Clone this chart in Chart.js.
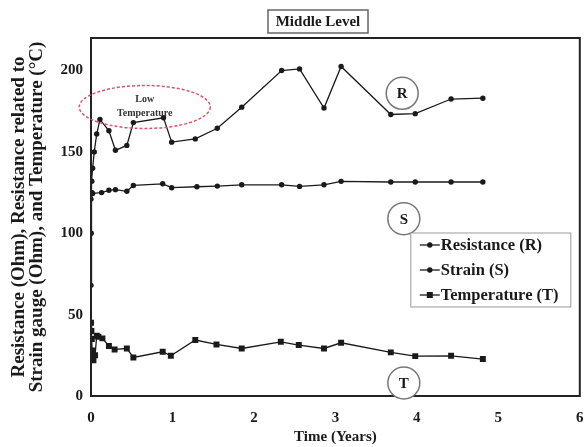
<!DOCTYPE html>
<html>
<head>
<meta charset="utf-8">
<script src="https://cdn.jsdelivr.net/npm/chart.js@4/dist/chart.umd.min.js"></script>
<style>
  body { margin: 0; background: #fff; }
  #wrap { width: 584px; height: 447px; }
</style>
</head>
<body>
<div id="wrap"><canvas id="chart" width="584" height="447"></canvas></div>
<script>
// values
const timeR = [0, 0.003, 0.006, 0.01, 0.02, 0.04, 0.07, 0.11, 0.22, 0.30, 0.44, 0.52, 0.89, 0.99, 1.28, 1.55, 1.85, 2.34, 2.56, 2.86, 3.07, 3.68, 3.98, 4.42, 4.81];
const resistance = [68, 100, 125, 132, 140, 150, 161, 170, 163, 151, 154, 168, 171, 156, 158, 164.5, 177.5, 200, 201, 177, 202.5, 173, 173.5, 182.5, 183];

const timeS = [0, 0.01, 0.02, 0.13, 0.22, 0.30, 0.44, 0.52, 0.88, 0.99, 1.30, 1.55, 1.85, 2.34, 2.56, 2.86, 3.07, 3.68, 3.98, 4.42, 4.81];
const strain = [121, 125, 124.5, 125, 126.4, 126.8, 125.8, 129.4, 130.4, 128, 128.6, 129, 129.8, 129.8, 128.8, 129.8, 131.9, 131.5, 131.5, 131.5, 131.5];

const timeT = [0, 0.005, 0.01, 0.015, 0.02, 0.03, 0.05, 0.07, 0.09, 0.14, 0.22, 0.29, 0.44, 0.52, 0.88, 0.98, 1.28, 1.54, 1.85, 2.33, 2.55, 2.86, 3.07, 3.68, 3.98, 4.42, 4.81];
const temperature = [45, 40, 35, 28, 23, 22, 25, 37, 36.4, 35.4, 30.7, 28.6, 29.2, 23.7, 27.2, 24.7, 34.4, 31.7, 29.2, 33.3, 31.3, 29.2, 32.7, 26.8, 24.5, 24.7, 22.7];

const xTicks = [0, 1, 2, 3, 4, 5, 6];
const seriesNames = ['Resistance (R)', 'Strain (S)', 'Temperature (T)'];

const serif = '"Liberation Serif", "Times New Roman", serif';
const ink = '#1a1a1a';

function pairs(xs, ys) {
    return xs.map((x, i) => ({ x: x, y: ys[i] }));
}

function series(label, xs, ys, style, radius) {
    return {
        label: label,
        data: pairs(xs, ys),
        showLine: true,
        borderColor: ink,
        backgroundColor: ink,
        borderWidth: 1.3,
        pointStyle: style,
        pointRadius: radius,
        pointHoverRadius: radius,
        pointBorderWidth: 0
    };
}

// box, title, legend, labels and the red ellipse
const extras = {
    id: 'extras',
    afterDatasetsDraw(chart) {
        const ctx = chart.ctx;
        const a = chart.chartArea;
        const xs = chart.scales.x, ys = chart.scales.y;
        ctx.save();

        // frame round the plot
        ctx.strokeStyle = '#222';
        ctx.lineWidth = 2;
        ctx.strokeRect(a.left, a.top, a.right - a.left, a.bottom - a.top);

        // boxed title
        ctx.font = 'bold 15px ' + serif;
        ctx.fillStyle = ink;
        ctx.textAlign = 'center';
        ctx.textBaseline = 'middle';
        ctx.fillText('Middle Level', 318, 22);
        ctx.strokeStyle = '#666';
        ctx.lineWidth = 1.5;
        ctx.strokeRect(268, 10, 100, 23);

        // circled letters
        const rings = [['R', 3.82, 186], ['S', 3.84, 109], ['T', 3.84, 8]];
        rings.forEach(([txt, x, y]) => {
            const px = xs.getPixelForValue(x), py = ys.getPixelForValue(y);
            ctx.beginPath();
            ctx.arc(px, py, 16, 0, Math.PI * 2);
            ctx.fillStyle = '#fff';
            ctx.fill();
            ctx.strokeStyle = '#777';
            ctx.lineWidth = 1.5;
            ctx.stroke();
            ctx.fillStyle = ink;
            ctx.font = 'bold 15px ' + serif;
            ctx.fillText(txt, px, py + 1);
        });

        // dashed ellipse marking the low temperature period
        const ex = xs.getPixelForValue(0.66), ey = ys.getPixelForValue(177.6);
        ctx.beginPath();
        ctx.ellipse(ex, ey, 65.5, 21.5, 0, 0, Math.PI * 2);
        ctx.setLineDash([3, 2]);
        ctx.strokeStyle = '#e0506a';
        ctx.lineWidth = 1.5;
        ctx.stroke();
        ctx.setLineDash([]);
        ctx.fillStyle = '#333';
        ctx.font = 'bold 10px ' + serif;
        ctx.fillText('Low', ex, ey - 8);
        ctx.fillText('Temperature', ex, ey + 6);

        // legend inside the plot
        const lx = a.right - 169;
        const top = 233;
        ctx.fillStyle = '#fff';
        ctx.fillRect(lx, top, 160, 74);
        ctx.strokeStyle = '#999';
        ctx.lineWidth = 1;
        ctx.strokeRect(lx, top, 160, 74);
        ctx.textAlign = 'left';
        ctx.font = 'bold 16.5px ' + serif;
        chart.data.datasets.forEach((ds, i) => {
            const y = top + 12 + i * 25;
            ctx.strokeStyle = ink;
            ctx.lineWidth = 1.3;
            ctx.beginPath();
            ctx.moveTo(lx + 9, y);
            ctx.lineTo(lx + 29, y);
            ctx.stroke();
            ctx.fillStyle = ink;
            if (ds.pointStyle === 'rect') {
                ctx.fillRect(lx + 16, y - 3, 6, 6);
            } else {
                ctx.beginPath();
                ctx.arc(lx + 19, y, 2.7, 0, Math.PI * 2);
                ctx.fill();
            }
            ctx.fillText(ds.label, lx + 30, y + 1);
        });
        ctx.restore();
    }
};

new Chart(document.getElementById('chart'), {
    type: 'scatter',
    data: {
        datasets: [
            series(seriesNames[0], timeR, resistance, 'circle', 2.7),
            series(seriesNames[1], timeS, strain, 'circle', 2.7),
            series(seriesNames[2], timeT, temperature, 'rect', 4.2)
        ]
    },
    options: {
        responsive: false,
        animation: false,
        layout: { padding: { top: 38, right: 2, left: 0, bottom: 0 } },
        plugins: {
            legend: { display: false },
            title: { display: false },
            tooltip: { enabled: false }
        },
        scales: {
            x: {
                type: 'linear',
                min: 0,
                max: 6,
                afterFit: s => { s.height = 51; s.paddingRight = 0; s.paddingLeft = 0; },
                afterBuildTicks: s => { s.ticks = xTicks.map(v => ({ value: v })); },
                grid: { display: false, drawTicks: false },
                border: { display: false },
                ticks: { color: ink, padding: 13, font: { family: serif, size: 15, weight: 'bold' } },
                title: {
                    display: true,
                    text: 'Time (Years)',
                    color: ink,
                    padding: { top: 0, bottom: 1 },
                    font: { family: serif, size: 15, weight: 'bold' }
                }
            },
            y: {
                min: 0,
                max: 220,
                afterFit: s => { s.width = 91; },
                grid: { display: false, drawTicks: false },
                border: { display: false },
                ticks: { stepSize: 50, includeBounds: false, color: ink, padding: 8, font: { family: serif, size: 15, weight: 'bold' } },
                title: {
                    display: true,
                    text: ['Resistance (Ohm), Resistance related to', 'Strain gauge (Ohm), and Temperature (°C)'],
                    color: ink,
                    padding: { top: 11, bottom: 0 },
                    font: { family: serif, size: 19, weight: 'bold', lineHeight: 0.9 }
                }
            }
        }
    },
    plugins: [extras]
});
</script>
</body>
</html>
